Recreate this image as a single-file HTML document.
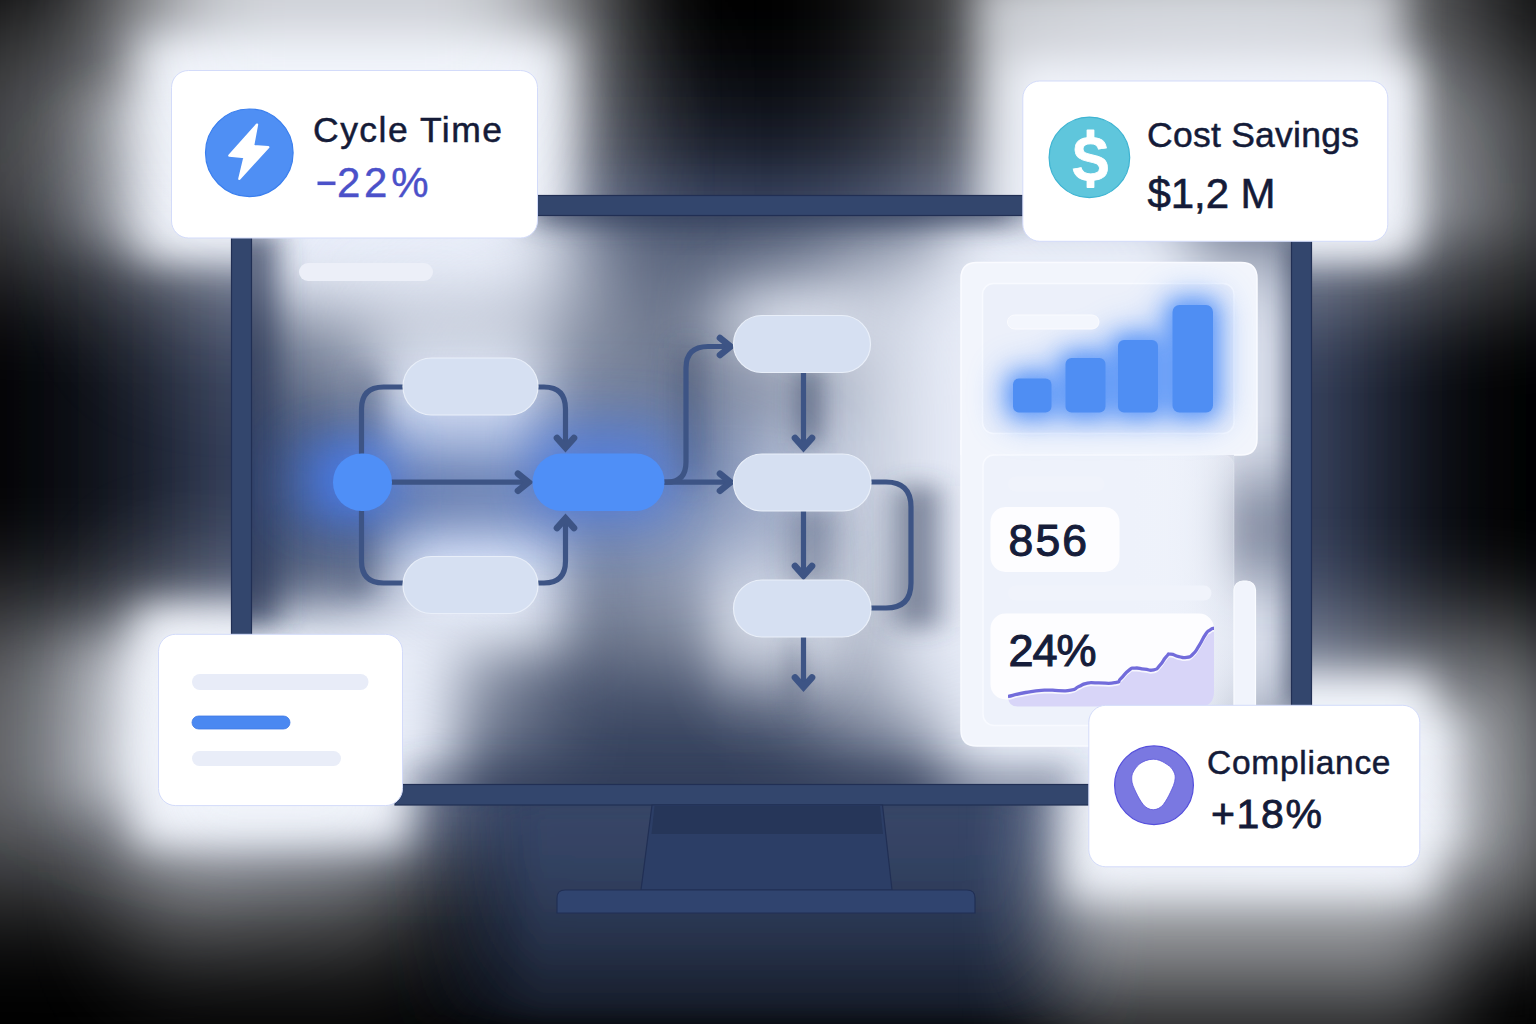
<!DOCTYPE html>
<html lang="en">
<head>
<meta charset="utf-8">
<title>Process dashboard illustration</title>
<style>
html,body{margin:0;padding:0;background:#000;}
body{width:1536px;height:1024px;overflow:hidden;font-family:"Liberation Sans",sans-serif;}
svg{display:block;position:absolute;left:0;top:0;}
text{font-family:"Liberation Sans",sans-serif;}
</style>
</head>
<body>
<svg width="1536" height="1024" viewBox="0 0 1536 1024">
<defs>
  <clipPath id="outclip"><path clip-rule="evenodd" d="M-10 -10 H1546 V1034 H-10 Z M241.5 205.5 V795 H1301.5 V205.5 Z"/></clipPath>
  <clipPath id="screenclip"><rect x="241.5" y="205.5" width="1060" height="589.5"/></clipPath>
  <linearGradient id="nvh" gradientUnits="userSpaceOnUse" x1="-50" y1="0" x2="1560" y2="0"><stop offset="0.0000" stop-color="#38435f" stop-opacity="0.030"/><stop offset="0.0311" stop-color="#38435f" stop-opacity="0.070"/><stop offset="0.0621" stop-color="#38435f" stop-opacity="0.160"/><stop offset="0.0932" stop-color="#38435f" stop-opacity="0.310"/><stop offset="0.1242" stop-color="#38435f" stop-opacity="0.520"/><stop offset="0.1553" stop-color="#38435f" stop-opacity="0.800"/><stop offset="0.1745" stop-color="#38435f" stop-opacity="0.950"/><stop offset="0.1988" stop-color="#38435f" stop-opacity="1.000"/><stop offset="0.8199" stop-color="#38435f" stop-opacity="1.000"/><stop offset="0.8453" stop-color="#38435f" stop-opacity="0.970"/><stop offset="0.8696" stop-color="#38435f" stop-opacity="0.750"/><stop offset="0.9006" stop-color="#38435f" stop-opacity="0.450"/><stop offset="0.9317" stop-color="#38435f" stop-opacity="0.200"/><stop offset="0.9627" stop-color="#38435f" stop-opacity="0.060"/><stop offset="1.0000" stop-color="#38435f" stop-opacity="0.000"/></linearGradient>
  <linearGradient id="nvv" gradientUnits="userSpaceOnUse" x1="0" y1="0" x2="0" y2="930"><stop offset="0.0000" stop-color="#fff" stop-opacity="0.000"/><stop offset="0.0538" stop-color="#fff" stop-opacity="0.080"/><stop offset="0.1075" stop-color="#fff" stop-opacity="0.250"/><stop offset="0.1398" stop-color="#fff" stop-opacity="0.400"/><stop offset="0.1613" stop-color="#fff" stop-opacity="0.500"/><stop offset="0.1828" stop-color="#fff" stop-opacity="0.700"/><stop offset="0.1989" stop-color="#fff" stop-opacity="0.850"/><stop offset="0.2151" stop-color="#fff" stop-opacity="0.950"/><stop offset="0.2312" stop-color="#fff" stop-opacity="1.000"/><stop offset="0.8602" stop-color="#fff" stop-opacity="1.000"/><stop offset="0.8925" stop-color="#fff" stop-opacity="0.800"/><stop offset="0.9247" stop-color="#fff" stop-opacity="0.400"/><stop offset="0.9677" stop-color="#fff" stop-opacity="0.100"/><stop offset="1.0000" stop-color="#fff" stop-opacity="0.000"/></linearGradient>
  <mask id="nvm" maskUnits="userSpaceOnUse" x="-50" y="0" width="1610" height="930"><rect x="-50" y="0" width="1610" height="930" fill="url(#nvv)"/></mask>
  <filter id="g14" filterUnits="userSpaceOnUse" x="-700" y="-700" width="2936" height="2424"><feGaussianBlur stdDeviation="14"/></filter>
  <linearGradient id="nbh" gradientUnits="userSpaceOnUse" x1="380" y1="0" x2="1150" y2="0"><stop offset="0.0000" stop-color="#364668" stop-opacity="0.000"/><stop offset="0.0649" stop-color="#364668" stop-opacity="0.200"/><stop offset="0.1299" stop-color="#364668" stop-opacity="0.600"/><stop offset="0.2078" stop-color="#364668" stop-opacity="1.000"/><stop offset="0.8052" stop-color="#364668" stop-opacity="1.000"/><stop offset="0.8701" stop-color="#364668" stop-opacity="0.700"/><stop offset="0.9351" stop-color="#364668" stop-opacity="0.300"/><stop offset="1.0000" stop-color="#364668" stop-opacity="0.000"/></linearGradient>
  <linearGradient id="nbv" gradientUnits="userSpaceOnUse" x1="0" y1="780" x2="0" y2="1024"><stop offset="0.0000" stop-color="#fff" stop-opacity="0.000"/><stop offset="0.1025" stop-color="#fff" stop-opacity="0.930"/><stop offset="0.3279" stop-color="#fff" stop-opacity="0.900"/><stop offset="0.4098" stop-color="#fff" stop-opacity="0.870"/><stop offset="0.4918" stop-color="#fff" stop-opacity="0.830"/><stop offset="0.6148" stop-color="#fff" stop-opacity="0.750"/><stop offset="0.6967" stop-color="#fff" stop-opacity="0.680"/><stop offset="0.7787" stop-color="#fff" stop-opacity="0.580"/><stop offset="0.8607" stop-color="#fff" stop-opacity="0.500"/><stop offset="0.9262" stop-color="#fff" stop-opacity="0.420"/><stop offset="1.0000" stop-color="#fff" stop-opacity="0.340"/></linearGradient>
  <mask id="nbm" maskUnits="userSpaceOnUse" x="380" y="780" width="770" height="244"><rect x="380" y="780" width="770" height="244" fill="url(#nbv)"/></mask>
  <filter id="g23p9_20p0" filterUnits="userSpaceOnUse" x="-700" y="-700" width="2936" height="2424"><feGaussianBlur stdDeviation="23.9 20.0"/></filter>
  <filter id="g38p5_20p0" filterUnits="userSpaceOnUse" x="-700" y="-700" width="2936" height="2424"><feGaussianBlur stdDeviation="38.5 20.0"/></filter>
  <filter id="g97p4_61p7" filterUnits="userSpaceOnUse" x="-700" y="-700" width="2936" height="2424"><feGaussianBlur stdDeviation="97.4 61.7"/></filter>
  <filter id="g64p4_113p6" filterUnits="userSpaceOnUse" x="-700" y="-700" width="2936" height="2424"><feGaussianBlur stdDeviation="64.4 113.6"/></filter>
  <filter id="g20p0_20p0" filterUnits="userSpaceOnUse" x="-700" y="-700" width="2936" height="2424"><feGaussianBlur stdDeviation="20.0 20.0"/></filter>
  <filter id="g88p4_23p7" filterUnits="userSpaceOnUse" x="-700" y="-700" width="2936" height="2424"><feGaussianBlur stdDeviation="88.4 23.7"/></filter>
  <filter id="g137p4_46p2" filterUnits="userSpaceOnUse" x="-700" y="-700" width="2936" height="2424"><feGaussianBlur stdDeviation="137.4 46.2"/></filter>
  <filter id="g64p2_26p8" filterUnits="userSpaceOnUse" x="-700" y="-700" width="2936" height="2424"><feGaussianBlur stdDeviation="64.2 26.8"/></filter>
  <filter id="g106p6_61p5" filterUnits="userSpaceOnUse" x="-700" y="-700" width="2936" height="2424"><feGaussianBlur stdDeviation="106.6 61.5"/></filter>
  <filter id="g47p8_74p5" filterUnits="userSpaceOnUse" x="-700" y="-700" width="2936" height="2424"><feGaussianBlur stdDeviation="47.8 74.5"/></filter>
  <filter id="g28p7_20p0" filterUnits="userSpaceOnUse" x="-700" y="-700" width="2936" height="2424"><feGaussianBlur stdDeviation="28.7 20.0"/></filter>
  <filter id="g40p4_57p6" filterUnits="userSpaceOnUse" x="-700" y="-700" width="2936" height="2424"><feGaussianBlur stdDeviation="40.4 57.6"/></filter>
  <filter id="g43p4_64p4" filterUnits="userSpaceOnUse" x="-700" y="-700" width="2936" height="2424"><feGaussianBlur stdDeviation="43.4 64.4"/></filter>
  <filter id="g39p1_29p5" filterUnits="userSpaceOnUse" x="-700" y="-700" width="2936" height="2424"><feGaussianBlur stdDeviation="39.1 29.5"/></filter>
  <filter id="g66p4_62p7" filterUnits="userSpaceOnUse" x="-700" y="-700" width="2936" height="2424"><feGaussianBlur stdDeviation="66.4 62.7"/></filter>
  <filter id="g27p5_42p9" filterUnits="userSpaceOnUse" x="-700" y="-700" width="2936" height="2424"><feGaussianBlur stdDeviation="27.5 42.9"/></filter>
  <filter id="g31p4_26p6" filterUnits="userSpaceOnUse" x="-700" y="-700" width="2936" height="2424"><feGaussianBlur stdDeviation="31.4 26.6"/></filter>
  <filter id="g28p2_23p1" filterUnits="userSpaceOnUse" x="-700" y="-700" width="2936" height="2424"><feGaussianBlur stdDeviation="28.2 23.1"/></filter>
  <filter id="g49p7_59p2" filterUnits="userSpaceOnUse" x="-700" y="-700" width="2936" height="2424"><feGaussianBlur stdDeviation="49.7 59.2"/></filter>
  <filter id="g36p4_68p2" filterUnits="userSpaceOnUse" x="-700" y="-700" width="2936" height="2424"><feGaussianBlur stdDeviation="36.4 68.2"/></filter>
  <filter id="g34p8_26p3" filterUnits="userSpaceOnUse" x="-700" y="-700" width="2936" height="2424"><feGaussianBlur stdDeviation="34.8 26.3"/></filter>
  <filter id="g22p0_22p0" filterUnits="userSpaceOnUse" x="-700" y="-700" width="2936" height="2424"><feGaussianBlur stdDeviation="22.0 22.0"/></filter>
  <filter id="g22p0_44p7" filterUnits="userSpaceOnUse" x="-700" y="-700" width="2936" height="2424"><feGaussianBlur stdDeviation="22.0 44.7"/></filter>
  <filter id="g30p5_29p9" filterUnits="userSpaceOnUse" x="-700" y="-700" width="2936" height="2424"><feGaussianBlur stdDeviation="30.5 29.9"/></filter>
  <filter id="g61p8_49p0" filterUnits="userSpaceOnUse" x="-700" y="-700" width="2936" height="2424"><feGaussianBlur stdDeviation="61.8 49.0"/></filter>
  <filter id="g118p9_79p2" filterUnits="userSpaceOnUse" x="-700" y="-700" width="2936" height="2424"><feGaussianBlur stdDeviation="118.9 79.2"/></filter>
  <filter id="g40p8_41p3" filterUnits="userSpaceOnUse" x="-700" y="-700" width="2936" height="2424"><feGaussianBlur stdDeviation="40.8 41.3"/></filter>
  <filter id="g15p9_12p7" filterUnits="userSpaceOnUse" x="-700" y="-700" width="2936" height="2424"><feGaussianBlur stdDeviation="15.9 12.7"/></filter>
  <filter id="g16p7_11p4" filterUnits="userSpaceOnUse" x="-700" y="-700" width="2936" height="2424"><feGaussianBlur stdDeviation="16.7 11.4"/></filter>
  <filter id="g17p5_19p6" filterUnits="userSpaceOnUse" x="-700" y="-700" width="2936" height="2424"><feGaussianBlur stdDeviation="17.5 19.6"/></filter>
  <filter id="g16p1_12p4" filterUnits="userSpaceOnUse" x="-700" y="-700" width="2936" height="2424"><feGaussianBlur stdDeviation="16.1 12.4"/></filter>
  <filter id="g12p4_12p2" filterUnits="userSpaceOnUse" x="-700" y="-700" width="2936" height="2424"><feGaussianBlur stdDeviation="12.4 12.2"/></filter>
  <filter id="g18p2_11p4" filterUnits="userSpaceOnUse" x="-700" y="-700" width="2936" height="2424"><feGaussianBlur stdDeviation="18.2 11.4"/></filter>
  <filter id="g10p6_19p4" filterUnits="userSpaceOnUse" x="-700" y="-700" width="2936" height="2424"><feGaussianBlur stdDeviation="10.6 19.4"/></filter>
  <filter id="g15p5_16p0" filterUnits="userSpaceOnUse" x="-700" y="-700" width="2936" height="2424"><feGaussianBlur stdDeviation="15.5 16.0"/></filter>
  <filter id="g12p4_13p8" filterUnits="userSpaceOnUse" x="-700" y="-700" width="2936" height="2424"><feGaussianBlur stdDeviation="12.4 13.8"/></filter>
  <filter id="g13p8_10p3" filterUnits="userSpaceOnUse" x="-700" y="-700" width="2936" height="2424"><feGaussianBlur stdDeviation="13.8 10.3"/></filter>
  <filter id="g17p0_11p6" filterUnits="userSpaceOnUse" x="-700" y="-700" width="2936" height="2424"><feGaussianBlur stdDeviation="17.0 11.6"/></filter>
  <filter id="g31p6_22p4" filterUnits="userSpaceOnUse" x="-700" y="-700" width="2936" height="2424"><feGaussianBlur stdDeviation="31.6 22.4"/></filter>
  <filter id="g24p2_33p2" filterUnits="userSpaceOnUse" x="-700" y="-700" width="2936" height="2424"><feGaussianBlur stdDeviation="24.2 33.2"/></filter>
  <filter id="g82p1_50p6" filterUnits="userSpaceOnUse" x="-700" y="-700" width="2936" height="2424"><feGaussianBlur stdDeviation="82.1 50.6"/></filter>
  <filter id="g9_12" filterUnits="userSpaceOnUse" x="-700" y="-700" width="2936" height="2424"><feGaussianBlur stdDeviation="9 12"/></filter>
  <filter id="g26_28" filterUnits="userSpaceOnUse" x="-700" y="-700" width="2936" height="2424"><feGaussianBlur stdDeviation="26 28"/></filter>
  <linearGradient id="opfade" gradientUnits="userSpaceOnUse" x1="961" y1="0" x2="1234" y2="0"><stop offset="0" stop-color="#f2f5fc"/><stop offset="0.62" stop-color="#f2f5fc"/><stop offset="1" stop-color="#f2f5fc" stop-opacity="0.2"/></linearGradient>
  <linearGradient id="lpfade" gradientUnits="userSpaceOnUse" x1="983" y1="0" x2="1234" y2="0"><stop offset="0" stop-color="#eef2fb"/><stop offset="0.6" stop-color="#eef2fb"/><stop offset="1" stop-color="#eef2fb" stop-opacity="0.25"/></linearGradient>
  <linearGradient id="lpfade2" gradientUnits="userSpaceOnUse" x1="983" y1="0" x2="1234" y2="0"><stop offset="0" stop-color="#f8faff"/><stop offset="0.6" stop-color="#f8faff"/><stop offset="1" stop-color="#f8faff" stop-opacity="0.1"/></linearGradient>
  <filter id="b6"  filterUnits="userSpaceOnUse" x="-300" y="-300" width="2136" height="1624"><feGaussianBlur stdDeviation="6"/></filter>
  <filter id="b10" filterUnits="userSpaceOnUse" x="-300" y="-300" width="2136" height="1624"><feGaussianBlur stdDeviation="10"/></filter>
  <filter id="b16" filterUnits="userSpaceOnUse" x="-300" y="-300" width="2136" height="1624"><feGaussianBlur stdDeviation="16"/></filter>
  <filter id="b24" filterUnits="userSpaceOnUse" x="-300" y="-300" width="2136" height="1624"><feGaussianBlur stdDeviation="24"/></filter>
  <filter id="b38" filterUnits="userSpaceOnUse" x="-300" y="-300" width="2136" height="1624"><feGaussianBlur stdDeviation="38"/></filter>
  <filter id="b42" filterUnits="userSpaceOnUse" x="-400" y="-400" width="2336" height="1824"><feGaussianBlur stdDeviation="42"/></filter>
  <filter id="b120" filterUnits="userSpaceOnUse" x="-800" y="-800" width="3136" height="2624"><feGaussianBlur stdDeviation="120"/></filter>
  <filter id="bnavy" filterUnits="userSpaceOnUse" x="-400" y="-400" width="2336" height="1824"><feGaussianBlur stdDeviation="60 28"/></filter>
  <linearGradient id="navy" gradientUnits="userSpaceOnUse" x1="0" y1="215" x2="0" y2="1040">
    <stop offset="0" stop-color="#34466e"/><stop offset="0.72" stop-color="#2c3d63"/><stop offset="0.9" stop-color="#1a2640"/><stop offset="1" stop-color="#101828"/>
  </linearGradient>
  <filter id="b50" filterUnits="userSpaceOnUse" x="-400" y="-400" width="2336" height="1824"><feGaussianBlur stdDeviation="50"/></filter>
  <filter id="b90" filterUnits="userSpaceOnUse" x="-600" y="-600" width="2736" height="2224"><feGaussianBlur stdDeviation="90"/></filter>

  <!-- flow connector lines (reused for shadow + sharp) -->
  <g id="flowlines" fill="none" stroke-linecap="round" stroke-linejoin="round">
    <!-- start -> top-left pill -->
    <path d="M361.5 456 V409 Q361.5 387 383.5 387 H404"/>
    <!-- top-left pill -> centre pill -->
    <path d="M537 387 H544 Q565.5 387 565.5 409 V444"/>
    <!-- start -> centre -->
    <path d="M392 482.2 H525"/>
    <!-- start -> bottom-left pill -->
    <path d="M361.5 509 V561 Q361.5 583 383.5 583 H404"/>
    <!-- bottom-left pill -> centre -->
    <path d="M537 583 H544 Q565.5 583 565.5 561 V521"/>
    <!-- centre -> mid-right -->
    <path d="M664 482.2 H728"/>
    <!-- centre -> top-right branch -->
    <path d="M664 482.2 H667 Q686 482.2 686 462 V368 Q686 346.5 708 346.5 H728"/>
    <!-- vertical arrows -->
    <path d="M803.5 372 V444"/>
    <path d="M803.5 510 V572"/>
    <path d="M803.5 637 V683"/>
    <!-- right loop -->
    <path d="M871 482 H886 Q911 482 911 507 V583 Q911 608 886 608 H871"/>
  </g>
  <g id="arrowheads" fill="none" stroke-linecap="round" stroke-linejoin="miter">
    <path d="M557.0 438.0 L565.5 447.5 L574.0 438.0"/>
    <path d="M518.0 473.7 L528.5 482.2 L518.0 490.7"/>
    <path d="M557.0 528.0 L565.5 518.5 L574.0 528.0"/>
    <path d="M720.0 473.7 L730.5 482.2 L720.0 490.7"/>
    <path d="M720.0 338.0 L730.5 346.5 L720.0 355.0"/>
    <path d="M795.0 438.0 L803.5 447.5 L812.0 438.0"/>
    <path d="M795.0 566.0 L803.5 575.5 L812.0 566.0"/>
    <path d="M795.0 677.5 L803.5 687 L812.0 677.5"/>
  </g>


  <!-- light pills -->
  <g id="pills">
    <rect x="403" y="358" width="135" height="57" rx="28.5"/>
    <rect x="403" y="556.5" width="135" height="57" rx="28.5"/>
    <rect x="733.5" y="315.5" width="137" height="57" rx="28.5"/>
    <rect x="733.5" y="454" width="137.5" height="57" rx="28.5"/>
    <rect x="733.5" y="580" width="137.5" height="57" rx="28.5"/>
  </g>
  <g id="bluenodes">
    <rect x="333" y="453.5" width="59" height="57.5" rx="28.5"/>
    <rect x="532.5" y="453.5" width="132" height="57.5" rx="28.7"/>
  </g>
  <g id="bars">
    <rect x="1013" y="378.5" width="38.5" height="34" rx="6"/>
    <rect x="1065.5" y="358" width="40" height="54.5" rx="6"/>
    <rect x="1118" y="340" width="40" height="72.5" rx="6"/>
    <rect x="1172.5" y="305" width="40.5" height="107.5" rx="7"/>
  </g>
</defs>

<rect width="1536" height="1024" fill="#000"/>

<!-- ================= GLOW / BACKGROUND LAYERS ================= -->
<g id="bg">
  <g clip-path="url(#outclip)">
  <g filter="url(#g14)"><rect x="-50" y="0" width="1610" height="930" fill="url(#nvh)" mask="url(#nvm)"/></g>
  <g filter="url(#g14)"><rect x="380" y="780" width="770" height="244" fill="url(#nbh)" mask="url(#nbm)"/></g>
  <rect x="140.6" y="35.4" width="428.5" height="223.99999999999997" rx="0" fill="#f1f4fb" opacity="1.0" filter="url(#g23p9_20p0)"/>
  <rect x="98.6" y="90.9" width="444.4" height="155.1" rx="0" fill="#f1f4fb" opacity="0.458" filter="url(#g38p5_20p0)"/>
  <rect x="-94.3" y="18.6" width="673.0999999999999" height="248.4" rx="0" fill="#f1f4fb" opacity="0.345" filter="url(#g97p4_61p7)"/>
  <rect x="129.8" y="-198.5" width="450.3" height="407.2" rx="0" fill="#f1f4fb" opacity="0.894" filter="url(#g64p4_113p6)"/>
  <rect x="1010.0" y="60.7" width="405.4000000000001" height="193.60000000000002" rx="0" fill="#f1f4fb" opacity="1.0" filter="url(#g20p0_20p0)"/>
  <rect x="949.3" y="-301.8" width="501.79999999999995" height="540.8" rx="0" fill="#f1f4fb" opacity="0.569" filter="url(#g88p4_23p7)"/>
  <rect x="1166.3" y="62.1" width="359.0" height="244.1" rx="0" fill="#f1f4fb" opacity="0.469" filter="url(#g137p4_46p2)"/>
  <rect x="975.8" y="-22.8" width="426.9000000000001" height="274.4" rx="0" fill="#f1f4fb" opacity="0.718" filter="url(#g20p0_20p0)"/>
  <rect x="136.4" y="607.6" width="271.9" height="236.79999999999995" rx="0" fill="#f1f4fb" opacity="1.0" filter="url(#g20p0_20p0)"/>
  <rect x="101.0" y="632.2" width="216.89999999999998" height="175.5" rx="0" fill="#f1f4fb" opacity="1.0" filter="url(#g64p2_26p8)"/>
  <rect x="-160.8" y="606.7" width="413.8" height="287.0" rx="0" fill="#f1f4fb" opacity="0.408" filter="url(#g106p6_61p5)"/>
  <rect x="122.7" y="629.0" width="302.7" height="288.79999999999995" rx="0" fill="#f1f4fb" opacity="0.592" filter="url(#g47p8_74p5)"/>
  <rect x="1066.2" y="675.0" width="367.29999999999995" height="223.20000000000005" rx="0" fill="#f1f4fb" opacity="1.0" filter="url(#g20p0_20p0)"/>
  <rect x="1238.8" y="711.4" width="219.20000000000005" height="145.39999999999998" rx="0" fill="#f1f4fb" opacity="1.0" filter="url(#g28p7_20p0)"/>
  <rect x="1055.9" y="634.3" width="509.0999999999999" height="284.70000000000005" rx="0" fill="#f1f4fb" opacity="0.577" filter="url(#g40p4_57p6)"/>
  <rect x="1049.8" y="806.0" width="401.70000000000005" height="202.10000000000002" rx="0" fill="#f1f4fb" opacity="0.54" filter="url(#g43p4_64p4)"/>
  </g>
  <g clip-path="url(#screenclip)">
  <rect x="241" y="205" width="1061" height="591" fill="#36425d"/>
  <rect x="182.7" y="140.6" width="374.50000000000006" height="157.70000000000002" rx="0" fill="#e9eef9" opacity="1.0" filter="url(#g39p1_29p5)"/>
  <rect x="248.6" y="177.7" width="332.19999999999993" height="200.7" rx="0" fill="#e9eef9" opacity="0.71" filter="url(#g66p4_62p7)"/>
  <rect x="377.1" y="327.2" width="167.10000000000002" height="128.7" rx="0" fill="#e9eef9" opacity="1.0" filter="url(#g27p5_42p9)"/>
  <rect x="388.7" y="524.9" width="177.09999999999997" height="124.39999999999998" rx="0" fill="#e9eef9" opacity="1.0" filter="url(#g31p4_26p6)"/>
  <rect x="162.8" y="613.1" width="291.59999999999997" height="220.29999999999995" rx="0" fill="#e9eef9" opacity="1.0" filter="url(#g28p2_23p1)"/>
  <rect x="243.6" y="592.7" width="289.19999999999993" height="159.5" rx="0" fill="#e9eef9" opacity="0.58" filter="url(#g49p7_59p2)"/>
  <rect x="708.3" y="286.6" width="246.80000000000007" height="338.19999999999993" rx="0" fill="#e9eef9" opacity="0.26" filter="url(#g36p4_68p2)"/>
  <rect x="725.1" y="290.8" width="142.60000000000002" height="59.099999999999966" rx="0" fill="#e9eef9" opacity="0.91" filter="url(#g34p8_26p3)"/>
  <rect x="746.7" y="428.2" width="128.0999999999999" height="75.5" rx="0" fill="#e9eef9" opacity="0.28" filter="url(#g22p0_22p0)"/>
  <rect x="711.2" y="570.0" width="138.69999999999993" height="96.10000000000002" rx="0" fill="#e9eef9" opacity="0.94" filter="url(#g22p0_44p7)"/>
  <rect x="946.0" y="205.1" width="244.5" height="646.1999999999999" rx="0" fill="#e9eef9" opacity="1.0" filter="url(#g30p5_29p9)"/>
  <rect x="841.6" y="235.5" width="522.8000000000001" height="509.0" rx="0" fill="#e9eef9" opacity="0.93" filter="url(#g61p8_49p0)"/>
  <rect x="407.6" y="243.7" width="609.5" height="386.09999999999997" rx="0" fill="#e9eef9" opacity="0.33" filter="url(#g118p9_79p2)"/>
  <rect x="604.4" y="505.1" width="203.39999999999998" height="164.79999999999995" rx="0" fill="#e9eef9" opacity="0.34" filter="url(#g40p8_41p3)"/>
  <rect x="231.6" y="233.3" width="44.50000000000003" height="390.3" rx="0" fill="#2e3b58" opacity="0.8" filter="url(#g15p9_12p7)"/>
  <rect x="533.3" y="190.1" width="481.0" height="36.30000000000001" rx="0" fill="#2e3b58" opacity="0.64" filter="url(#g16p7_11p4)"/>
  <rect x="406.6" y="771.3" width="667.3000000000001" height="33.30000000000007" rx="0" fill="#2e3b58" opacity="0.64" filter="url(#g17p5_19p6)"/>
  <rect x="896.7" y="485.8" width="41.299999999999955" height="141.59999999999997" rx="0" fill="#2e3b58" opacity="0.6" filter="url(#g16p1_12p4)"/>
  <rect x="797.8" y="369.5" width="21.700000000000045" height="73.69999999999999" rx="0" fill="#2e3b58" opacity="0.6" filter="url(#g12p4_12p2)"/>
  <rect x="799.5" y="509.4" width="24.5" height="77.0" rx="0" fill="#2e3b58" opacity="0.6" filter="url(#g18p2_11p4)"/>
  <rect x="787.5" y="642.4" width="14.5" height="59.200000000000045" rx="0" fill="#2e3b58" opacity="0.37" filter="url(#g10p6_19p4)"/>
  <rect x="679.8" y="348.1" width="18.90000000000009" height="133.2" rx="0" fill="#2e3b58" opacity="0.6" filter="url(#g15p5_16p0)"/>
  <rect x="353.9" y="370.5" width="26.80000000000001" height="77.69999999999999" rx="0" fill="#2e3b58" opacity="0.34" filter="url(#g12p4_13p8)"/>
  <rect x="349.2" y="513.0" width="17.100000000000023" height="83.0" rx="0" fill="#2e3b58" opacity="0.47" filter="url(#g13p8_10p3)"/>
  <rect x="397.7" y="472.2" width="156.8" height="12.0" rx="0" fill="#2e3b58" opacity="0.13" filter="url(#g17p0_11p6)"/>
  <rect x="313.1" y="440.2" width="72.0" height="79.80000000000001" rx="0" fill="#4880f8" opacity="0.97" filter="url(#g31p6_22p4)"/>
  <rect x="533.3" y="440.7" width="136.80000000000007" height="64.5" rx="0" fill="#4880f8" opacity="0.81" filter="url(#g24p2_33p2)"/>
  <rect x="292.6" y="437.7" width="448.9" height="96.09999999999997" rx="0" fill="#4880f8" opacity="0.42" filter="url(#g82p1_50p6)"/>
  <rect x="1283" y="241" width="29" height="465" rx="0" fill="#2e3b58" opacity="0.5" filter="url(#g9_12)"/>
  <rect x="1225" y="478" width="80" height="102" rx="0" fill="#2e3b58" opacity="0.5" filter="url(#g26_28)"/>
  </g>
  
</g>

<!-- ================= MONITOR FRAME ================= -->
<g id="monitor">
  <g fill="#33466d" stroke="#212f54" stroke-width="1.2">
    <rect x="231.5" y="230" width="20" height="410"/>
    <rect x="1291.5" y="232" width="20" height="480"/>
    <rect x="530" y="195.5" width="500" height="20"/>
    <rect x="395" y="784.5" width="700" height="20.5"/>
    <path d="M652 805 L882.5 805 L892 890 L641 890 Z" fill="#2c3e66"/>
    <path d="M565 890 H967 Q975 890 975 898 V913 H557 V898 Q557 890 565 890 Z" fill="#30446f"/>
  </g>
  <path d="M654.5 806 L880 806 L883 834 L651.5 834 Z" fill="#263659"/>
</g>

<!-- ================= FLOW DIAGRAM ================= -->
<use href="#flowlines" stroke="#3d5485" stroke-width="5.2"/>
<use href="#arrowheads" stroke="#3d5485" stroke-width="6.6"/>
<use href="#pills" fill="#d6e0f2" stroke="#e9eff9" stroke-width="1.2"/>
<use href="#bluenodes" fill="#4f8ff7"/>
<rect x="299" y="263" width="134" height="18" rx="9" fill="#eceff8"/>

<!-- ================= RIGHT PANEL ================= -->
<g id="panel">
  <path d="M961 440 V730 Q961 746 977 746 H1218 Q1234 746 1234 730 V440 Z" fill="url(#opfade)"/>
  <path d="M961 440 V730 Q961 746 977 746 H1218 Q1234 746 1234 730 V455" fill="none" stroke="url(#lpfade2)" stroke-width="1.5"/>
  <path d="M977 262.5 H1241 Q1257 262.5 1257 278.5 V439 Q1257 455 1241 455 H961 V278.5 Q961 262.5 977 262.5 Z" fill="#f2f5fc"/>
  <path d="M961 455 V278.5 Q961 262.5 977 262.5 H1241 Q1257 262.5 1257 278.5 V439 Q1257 455 1241 455 H1234" fill="none" stroke="#fafbff" stroke-width="1.5"/>
  <rect x="982.5" y="283.5" width="251.5" height="150" rx="11" fill="#ecf0fa" stroke="#f8faff" stroke-width="1.5"/>
  <rect x="983" y="455" width="251" height="270.5" rx="11" fill="url(#lpfade)" stroke="url(#lpfade2)" stroke-width="1.5"/>
  <rect x="1234" y="581" width="21.5" height="140" rx="9" fill="#f1f4fc" stroke="#f9fbff" stroke-width="1.2"/>
  <!-- bar glow -->
  <use href="#bars" fill="#5b95f8" opacity="0.55" filter="url(#b16)" stroke="#5b95f8" stroke-width="26"/>
  <use href="#bars" fill="#4f8ff7" opacity="0.8" filter="url(#b10)" stroke="#4f8ff7" stroke-width="8"/>
  <rect x="1007.5" y="315" width="91.5" height="14" rx="7" fill="#f3f6fd" stroke="#fafbff" stroke-width="1"/>
  <use href="#bars" fill="#4f8ef3"/>
  <rect x="1008" y="476.5" width="96.5" height="15" rx="7.5" fill="#f0f3fb"/>
  <rect x="990.5" y="507" width="129" height="65" rx="15" fill="#fdfdff"/>
  <rect x="1008" y="585.5" width="203.5" height="15" rx="7.5" fill="#f0f3fb"/>
  <rect x="990.5" y="613.5" width="223.5" height="86" rx="15" fill="#fdfdff"/>
  <clipPath id="c24"><path d="M1008 600 H1214 V692 Q1214 706.6 1199 706.6 H1018 Q1008 706.6 1008 696.6 Z"/></clipPath>
  <g clip-path="url(#c24)">
    <path d="M1008.4 696.4 C1014.1 695.1 1013.6 694.6 1025.6 692.5 C1037.6 690.4 1033.5 690.8 1044.4 690.2 C1055.3 689.6 1049.6 690.6 1058.4 690.6 C1067.2 690.6 1064.1 691.5 1070.9 690.2 C1077.7 688.9 1073.6 688.9 1078.8 686.6 C1084.0 684.3 1080.4 684.7 1086.6 683.4 C1092.8 682.1 1088.1 683.0 1097.5 682.8 C1106.9 682.6 1106.9 684.2 1114.7 682.7 C1122.5 681.2 1116.2 682.5 1120.9 678.4 C1125.6 674.3 1124.1 673.7 1128.8 670.3 C1133.5 666.9 1129.8 668.5 1135 668.1 C1140.2 667.7 1138.1 668.5 1144.4 669.1 C1150.7 669.7 1148.6 671.1 1153.8 669.8 C1159.0 668.5 1155.8 669.6 1160 665.2 C1164.2 660.8 1162.7 660.3 1166.3 656.6 C1169.9 652.9 1166.7 654.2 1170.9 654.2 C1175.1 654.2 1173.6 655.6 1178.8 656.6 C1184.0 657.6 1181.9 658.1 1186.6 657.3 C1191.3 656.5 1188.6 658.1 1192.8 654.2 C1197.0 650.3 1194.9 652.1 1199.1 645.6 C1203.3 639.1 1201.7 639.9 1205.3 634.7 C1208.9 629.5 1207.1 632.2 1210 630 C1212.9 627.8 1212.7 628.8 1214 628.2 V710 H1008 Z" fill="#d8d5f8"/>
    <path d="M1008.4 696.4 C1014.1 695.1 1013.6 694.6 1025.6 692.5 C1037.6 690.4 1033.5 690.8 1044.4 690.2 C1055.3 689.6 1049.6 690.6 1058.4 690.6 C1067.2 690.6 1064.1 691.5 1070.9 690.2 C1077.7 688.9 1073.6 688.9 1078.8 686.6 C1084.0 684.3 1080.4 684.7 1086.6 683.4 C1092.8 682.1 1088.1 683.0 1097.5 682.8 C1106.9 682.6 1106.9 684.2 1114.7 682.7 C1122.5 681.2 1116.2 682.5 1120.9 678.4 C1125.6 674.3 1124.1 673.7 1128.8 670.3 C1133.5 666.9 1129.8 668.5 1135 668.1 C1140.2 667.7 1138.1 668.5 1144.4 669.1 C1150.7 669.7 1148.6 671.1 1153.8 669.8 C1159.0 668.5 1155.8 669.6 1160 665.2 C1164.2 660.8 1162.7 660.3 1166.3 656.6 C1169.9 652.9 1166.7 654.2 1170.9 654.2 C1175.1 654.2 1173.6 655.6 1178.8 656.6 C1184.0 657.6 1181.9 658.1 1186.6 657.3 C1191.3 656.5 1188.6 658.1 1192.8 654.2 C1197.0 650.3 1194.9 652.1 1199.1 645.6 C1203.3 639.1 1201.7 639.9 1205.3 634.7 C1208.9 629.5 1207.1 632.2 1210 630 C1212.9 627.8 1212.7 628.8 1214 628.2" fill="none" stroke="#fbfbff" stroke-width="2.4" transform="translate(0 2.2)" opacity="0.85"/>
    <path d="M1008.4 696.4 C1014.1 695.1 1013.6 694.6 1025.6 692.5 C1037.6 690.4 1033.5 690.8 1044.4 690.2 C1055.3 689.6 1049.6 690.6 1058.4 690.6 C1067.2 690.6 1064.1 691.5 1070.9 690.2 C1077.7 688.9 1073.6 688.9 1078.8 686.6 C1084.0 684.3 1080.4 684.7 1086.6 683.4 C1092.8 682.1 1088.1 683.0 1097.5 682.8 C1106.9 682.6 1106.9 684.2 1114.7 682.7 C1122.5 681.2 1116.2 682.5 1120.9 678.4 C1125.6 674.3 1124.1 673.7 1128.8 670.3 C1133.5 666.9 1129.8 668.5 1135 668.1 C1140.2 667.7 1138.1 668.5 1144.4 669.1 C1150.7 669.7 1148.6 671.1 1153.8 669.8 C1159.0 668.5 1155.8 669.6 1160 665.2 C1164.2 660.8 1162.7 660.3 1166.3 656.6 C1169.9 652.9 1166.7 654.2 1170.9 654.2 C1175.1 654.2 1173.6 655.6 1178.8 656.6 C1184.0 657.6 1181.9 658.1 1186.6 657.3 C1191.3 656.5 1188.6 658.1 1192.8 654.2 C1197.0 650.3 1194.9 652.1 1199.1 645.6 C1203.3 639.1 1201.7 639.9 1205.3 634.7 C1208.9 629.5 1207.1 632.2 1210 630 C1212.9 627.8 1212.7 628.8 1214 628.2" fill="none" stroke="#726cdb" stroke-width="3.3" stroke-linecap="round"/>
  </g>
  <text x="1008.5" y="555.6" font-size="44.5" fill="#161d3a" textLength="78.5" lengthAdjust="spacing" stroke="#161d3a" stroke-width="1.1">856</text>
  <text x="1008.5" y="665.9" font-size="45" fill="#161d3a" textLength="88" lengthAdjust="spacing" stroke="#161d3a" stroke-width="1.1">24%</text>
</g>

<!-- ================= CARDS ================= -->
<g id="cards">
  <g fill="#fff" stroke="#d3dbfa" stroke-width="1">
    <rect x="171.5" y="70.5" width="366" height="167.5" rx="17"/>
    <rect x="1022.8" y="81" width="365" height="160.3" rx="17"/>
    <rect x="158.5" y="634.3" width="244" height="171.3" rx="17"/>
    <rect x="1088.8" y="705.3" width="331" height="161.5" rx="17"/>
  </g>

  <!-- card 1 : Cycle Time -->
  <circle cx="249.3" cy="152.8" r="43.8" fill="#4f8ff4" stroke="#3b7fee" stroke-width="1.2"/>
  <path d="M257 124.6 L229.4 155.6 L244.6 157 L239.4 178.8 L268.2 147.2 L253 146 Z" fill="#fff" stroke="#fff" stroke-width="2.4" stroke-linejoin="round"/>
  <text x="313" y="142" font-size="35.5" fill="#141b38" textLength="189" lengthAdjust="spacing" stroke="#141b38" stroke-width="0.5">Cycle Time</text>
  <rect x="317.5" y="181.5" width="18" height="3.6" fill="#4b51c9"/>
  <text x="337" y="197.3" font-size="42" fill="#4b51c9" textLength="91.5" lengthAdjust="spacing" stroke="#4b51c9" stroke-width="0.4">22%</text>

  <!-- card 2 : Cost Savings -->
  <circle cx="1089.4" cy="157.4" r="40.3" fill="#5fc6dc" stroke="#3fb4d2" stroke-width="1.2"/>
  <g fill="#fff"><text transform="translate(1090.5 0) scale(0.94 1) translate(-1090.5 0)" x="1090.5" y="180.4" font-size="61" font-weight="700" text-anchor="middle" stroke="#fff" stroke-width="0.8">S</text><rect x="1086.6" y="129.6" width="7.8" height="9" rx="0.8"/><rect x="1086.6" y="178" width="7.8" height="10" rx="0.8"/></g>
  <text x="1147" y="147.3" font-size="35.5" fill="#141b38" textLength="212" lengthAdjust="spacing" stroke="#141b38" stroke-width="0.5">Cost Savings</text>
  <text x="1147.5" y="207.5" font-size="42" fill="#141b38" textLength="128" lengthAdjust="spacing" stroke="#141b38" stroke-width="0.6">$1,2 M</text>

  <!-- card 3 : list -->
  <rect x="192" y="674" width="176.5" height="16" rx="8" fill="#e8ecf8"/>
  <rect x="192" y="716" width="98" height="13" rx="6.5" fill="#4a88f1" stroke="#3f7ae6" stroke-width="0.8"/>
  <rect x="192" y="751" width="149" height="15" rx="7.5" fill="#e9edf8"/>

  <!-- card 4 : Compliance -->
  <circle cx="1154" cy="785.3" r="39.4" fill="#7a78e1" stroke="#554fdc" stroke-width="1.2"/>
  <path d="M1153.2 759.2 C1158 759.2 1161.5 761 1164.5 762.8 C1168.5 765.2 1171 767 1172.3 769.2 C1174.5 772.5 1175.4 775 1175.2 778 C1175 783 1172.5 788 1170.3 792.6 C1168.2 797 1166 801 1163.5 804.3 C1160.5 808 1157 809.7 1153.2 809.7 C1149.4 809.7 1146 808 1143 804.3 C1140.4 801 1138.2 797 1136.1 792.6 C1133.9 788 1131.5 783 1131.7 779 C1131.6 776 1132.2 774 1133.2 772.1 C1134.5 769.5 1136.5 766.5 1139.1 764.3 C1142.5 761.5 1148 759.2 1153.2 759.2 Z" fill="#fff" stroke="#5a54dc" stroke-width="0.8"/>
  <text x="1207" y="774" font-size="33.5" fill="#141b38" textLength="183.5" lengthAdjust="spacing" stroke="#141b38" stroke-width="0.5">Compliance</text>
  <text x="1211" y="828.2" font-size="41" fill="#141b38" textLength="111" lengthAdjust="spacing" stroke="#141b38" stroke-width="0.8">+18%</text>
</g>
</svg>
</body>
</html>
